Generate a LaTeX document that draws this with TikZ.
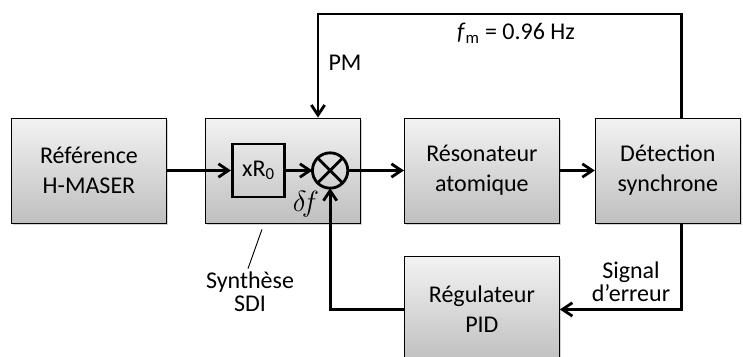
\documentclass[tikz,border=0pt]{standalone}
\usepackage{fontspec}
\setmainfont{Carlito}
\usetikzlibrary{arrows.meta, positioning, shadows}

\begin{document}
\begin{tikzpicture}[
	x=0.3mm, y=-0.3mm,
	node distance=10mm,
	every node/.style={font=\fontsize{20.5}{25.6}\selectfont, align=center},
	block/.style={draw, line width=0.8pt, top color=gray!10, bottom color=gray!50, minimum width=46.5mm, minimum height=31.5mm, inner sep=0pt, drop shadow={opacity=0.35, shadow xshift=0.5mm, shadow yshift=-0.5mm}},
	inner_block/.style={draw, line width=2.4pt, minimum width=15.6mm, minimum height=15.9mm, inner sep=0pt},
	mixer/.style={circle, draw, line width=2.4pt, minimum size=10.6mm, inner sep=0pt, outer sep=0pt},
	signal/.style={line width=2.4pt, -{Straight Barb[length=3mm, width=4mm]}},
	note/.style={font=\fontsize{20.5}{20}\selectfont, inner sep=0pt}
	]
	\useasboundingbox (0,0) rectangle (743,356);
	
	% --- BLOCS ---
	\node[block] (ref) at (89,170.5) {Référence\\H-MASER};
	\node[block] (sdi) [right=11.4mm of ref] {};
	\node[block] (reso) [right=12.9mm of sdi] {Résonateur\\atomique};
	\node[block, minimum width=43.5mm] (detect) [right=10.5mm of reso] {Détection\\synchrone};
	\node[block] (pid) [below=9.9mm of reso] {Régulateur\\PID};
	
	% --- SYNTHESE SDI ---
	\node[inner_block] (mult) [right=7.8mm of sdi.west] {xR\textsubscript{0}};
	\node[mixer] (sum) [right=8mm of mult] {};
	\draw[line width=2.4pt] (sum.north west) -- (sum.south east) (sum.north east) -- (sum.south west);
	\node[scale=1.2] (df) at (306,204) {$\delta\!f$};
	
	% --- LIAISONS ---
	\coordinate (fb_top) at (318,14);
	\draw[signal] (ref) -- (mult);
	\draw[signal] (mult) -- (sum);
	\draw[signal] (sum) -- (reso);
	\draw[signal] (reso) -- (detect);
	\draw[signal] ([xshift=4.05mm]detect.north) |- (fb_top) -- (fb_top |- sdi.north);
	\draw[signal] ([xshift=4.05mm]detect.south) |- (pid.east);
	\draw[signal] (pid.west) -| (sum.south);
	
	% --- ETIQUETTES ---
	\node (fm) at (516,33) {\textit{f}\textsubscript{m} = 0.96 Hz};
	\node (pm) at (345,63) {PM};
	\node[note] (err) at (631,282) {Signal\\d’erreur};
	\node[note] (synth) at (250,292) {Synthèse\\SDI};
	\draw[line width=0.8pt] ([xshift=-6.3mm, yshift=-1.8mm]sdi.south) -- ([xshift=-0.6mm, yshift=0.9mm]synth.north);
	
\end{tikzpicture}
\end{document}
